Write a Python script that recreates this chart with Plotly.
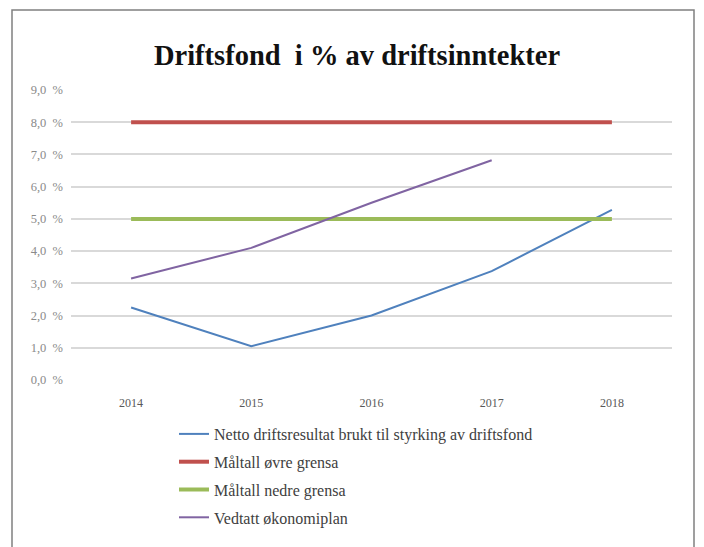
import plotly.graph_objects as go

years = [2014, 2015, 2016, 2017, 2018]
netto = [2.25, 1.05, 2.0, 3.38, 5.28]
ovre = [8.0, 8.0, 8.0, 8.0, 8.0]
nedre = [5.0, 5.0, 5.0, 5.0, 5.0]
vedtatt = [3.15, 4.1, 5.5, 6.82]
vedtatt_years = [2014, 2015, 2016, 2017]

ytick_vals = [0, 1, 2, 3, 4, 5, 6, 7, 8, 9]
ytick_text = ["0,0  %", "1,0  %", "2,0  %", "3,0  %", "4,0  %", "5,0  %", "6,0  %", "7,0  %", "8,0  %", "9,0  %"]

fig = go.Figure()
fig.add_trace(go.Scatter(x=years, y=netto, mode="lines", name="Netto driftsresultat brukt til styrking av driftsfond",
                         line=dict(color="#4F81BD", width=2), legendgroup="a"))
fig.add_trace(go.Scatter(x=years, y=ovre, mode="lines", name="Måltall øvre grensa",
                         line=dict(color="#C0504D", width=4), legendgroup="b"))
fig.add_trace(go.Scatter(x=years, y=nedre, mode="lines", name="Måltall nedre grensa",
                         line=dict(color="#9BBB59", width=4), legendgroup="c"))
fig.add_trace(go.Scatter(x=vedtatt_years, y=vedtatt, mode="lines", name="Vedtatt økonomiplan",
                         line=dict(color="#8064A2", width=2), legendgroup="d"))

# page is rendered with an 8px body margin, so work in coordinates shifted by -8
W, H = 696, 539
L, T = 63, 82
plot_right, plot_bottom = 664, 372
R = W - plot_right
B = H - plot_bottom
pw = W - L - R
ph = H - T - B

fig.update_layout(
    width=W, height=H,
    margin=dict(l=L, r=R, t=T, b=B),
    paper_bgcolor="white", plot_bgcolor="white",
    font=dict(family="Liberation Serif", color="#595959"),
    title=dict(text="<b>Driftsfond  i % av driftsinntekter</b>", x=349 / W, xanchor="center",
               y=1 - 47 / H, yanchor="middle",
               font=dict(family="Liberation Serif", size=28.5, color="#111111")),
    xaxis=dict(range=[2013.5, 2018.5], tickvals=years, ticktext=[str(y) for y in years],
               showgrid=False, zeroline=False, showline=False, ticks="",
               ticklabelstandoff=14,
               tickfont=dict(size=12, color="#595959")),
    yaxis=dict(range=[0, 9], tickvals=ytick_vals, ticktext=ytick_text,
               showgrid=True, gridcolor="#D9D9D9", gridwidth=1.5, zeroline=False, showline=False,
               ticks="", ticklabelstandoff=7, tickfont=dict(size=12.5, color="#8a8a8a")),
    legend=dict(x=(166 - L) / pw, y=(plot_bottom - 409) / ph, xanchor="left", yanchor="top",
                font=dict(family="Liberation Serif", size=16, color="#404040"),
                tracegroupgap=4, bgcolor="rgba(0,0,0,0)"),
    showlegend=True,
)

fig.add_shape(type="rect", xref="paper", yref="paper",
              x0=(4 - L) / pw, x1=(686 - L) / pw,
              y0=(plot_bottom - 560) / ph, y1=(plot_bottom - 2) / ph,
              line=dict(color="#808080", width=1.5), fillcolor="rgba(0,0,0,0)", layer="below")

fig.write_html("out.html")
